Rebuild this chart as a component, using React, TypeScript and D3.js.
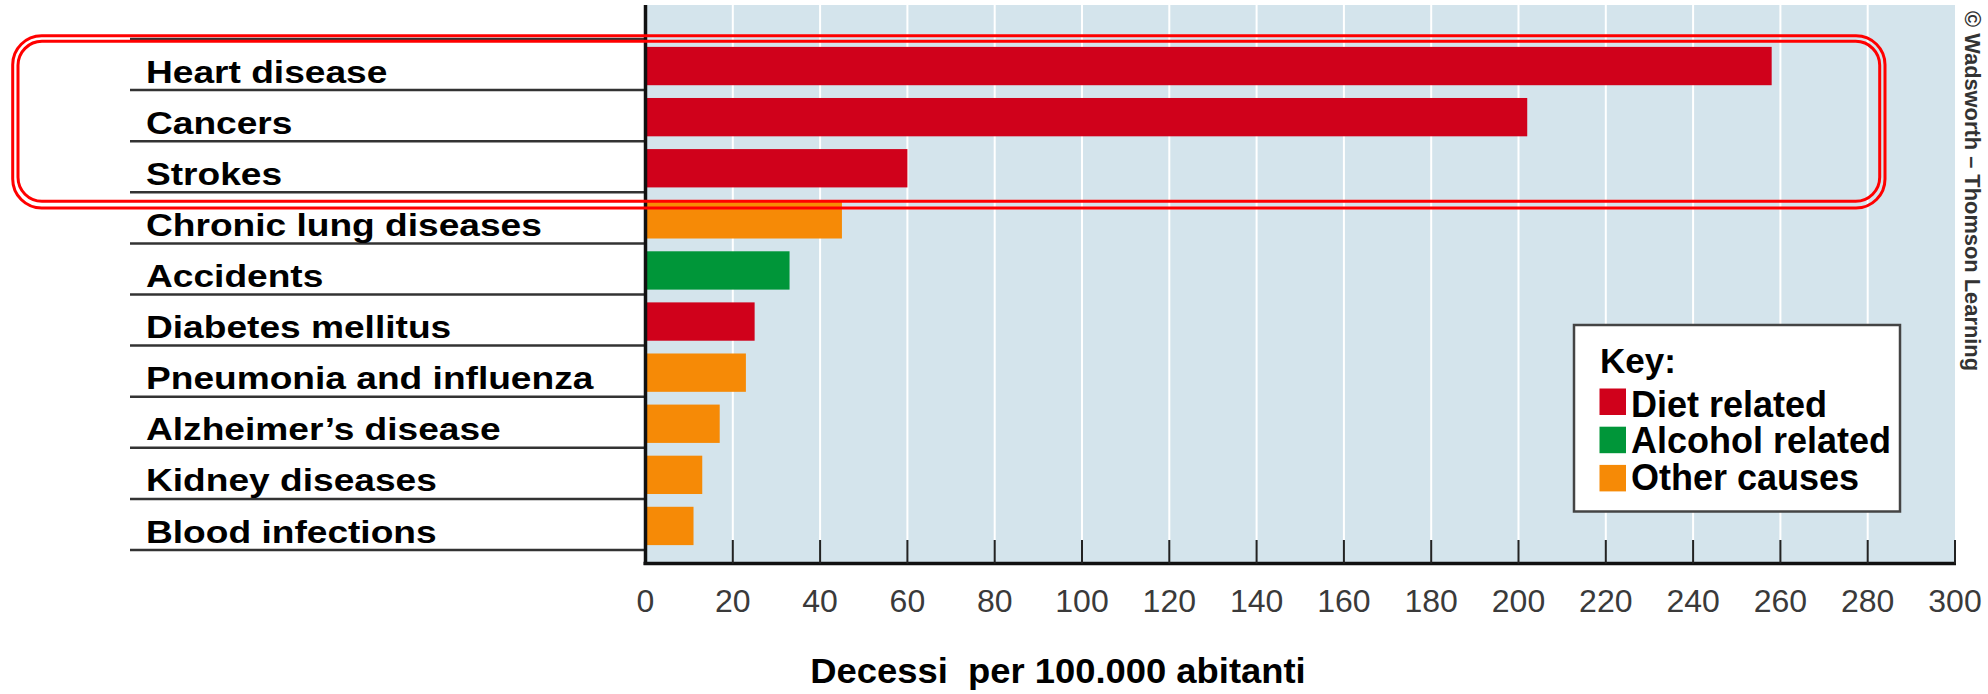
import React from "react";
import * as d3 from "d3";

// Leading causes of death, deaths per 100,000 inhabitants
const causes = [
  "Heart disease",
  "Cancers",
  "Strokes",
  "Chronic lung diseases",
  "Accidents",
  "Diabetes mellitus",
  "Pneumonia and influenza",
  "Alzheimer’s disease",
  "Kidney diseases",
  "Blood infections",
];
const deathRates = [258, 202, 60, 45, 33, 25, 23, 17, 13, 11];
const causeGroups = ["diet", "diet", "diet", "other", "alcohol", "diet", "other", "other", "other", "other"];

const groupKeys = ["diet", "alcohol", "other"];
const groupLabels = ["Diet related", "Alcohol related", "Other causes"];
const groupColors = ["#d0011b", "#009639", "#f68a06"];

const tickValues = [0, 20, 40, 60, 80, 100, 120, 140, 160, 180, 200, 220, 240, 260, 280, 300];
const highlightedCauses = ["Heart disease", "Cancers", "Strokes"];

const axisTitle = "Decessi  per 100.000 abitanti";
const legendTitle = "Key:";
const credit = "© Wadsworth – Thomson Learning";

const W = 1988;
const H = 694;
const FONT = '"Liberation Sans", Arial, Helvetica, sans-serif';

export default function App() {
  const plotLeft = 645.5;
  const plotRight = 1955;
  const plotTop = 5;
  const axisY = 563.5;
  const rowsTop = 39;
  const rowsBottom = 550;
  const labelX = 146;

  const x = d3.scaleLinear().domain([0, 300]).range([plotLeft, plotRight]);
  const rows = d3.scaleBand<string>().domain(causes).range([rowsTop, rowsBottom]);
  const bars = d3
    .scaleBand<string>()
    .domain(causes)
    .range([rowsTop, rowsBottom])
    .paddingInner(0.25)
    .paddingOuter(0.125);
  const color = d3.scaleOrdinal<string, string>().domain(groupKeys).range(groupColors);

  // highlight frame around the top causes
  const hiRows = highlightedCauses.map((c) => rows(c) as number);
  const hiTop = d3.min(hiRows) as number;
  const hiBottom = (d3.max(hiRows) as number) + rows.step();

  const separators = [...causes.map((c) => rows(c) as number), rowsBottom];

  return (
    <svg width={W} height={H} style={{ display: "block", position: "absolute", left: 0, top: 0 }}>
      <rect x={0} y={0} width={W} height={H} fill="#ffffff" />

      {/* plot background */}
      <rect x={plotLeft} y={plotTop} width={plotRight - plotLeft} height={axisY - plotTop} fill="#d4e4ec" />

      {/* vertical gridlines */}
      {tickValues
        .filter((t) => t > 0 && t < 300)
        .map((t) => (
          <line key={"g" + t} x1={x(t)} x2={x(t)} y1={plotTop} y2={540} stroke="#ffffff" strokeWidth={2} />
        ))}

      {/* row separators */}
      {separators.map((y, i) => (
        <line key={"s" + i} x1={130} x2={plotLeft} y1={y} y2={y} stroke="#333333" strokeWidth={2.5} />
      ))}

      {/* bars */}
      {causes.map((c, i) => (
        <rect
          key={c}
          x={x(0) + 1.5}
          y={(bars(c) as number) + 1.5}
          width={x(deathRates[i]) - x(0) - 1.5}
          height={bars.bandwidth()}
          fill={color(causeGroups[i])}
        />
      ))}

      {/* category labels */}
      {causes.map((c) => (
        <text
          key={"l" + c}
          transform={`translate(${labelX},${(rows(c) as number) + rows.step() - 7.5}) scale(1.16,1)`}
          fontFamily={FONT}
          fontWeight="bold"
          fontSize={32}
          fill="#000000"
        >
          {c}
        </text>
      ))}

      {/* axes */}
      <line x1={plotLeft} x2={plotLeft} y1={plotTop} y2={axisY + 1.5} stroke="#111111" strokeWidth={3.5} />
      <line x1={plotLeft - 2} x2={plotRight + 1} y1={axisY} y2={axisY} stroke="#111111" strokeWidth={3.5} />
      {tickValues
        .filter((t) => t > 0)
        .map((t) => (
          <line key={"t" + t} x1={x(t)} x2={x(t)} y1={540} y2={axisY} stroke="#222222" strokeWidth={2} />
        ))}
      {tickValues.map((t) => (
        <text
          key={"tl" + t}
          x={x(t)}
          y={611.5}
          textAnchor="middle"
          fontFamily={FONT}
          fontSize={32}
          fill="#3a3a3a"
        >
          {t}
        </text>
      ))}

      {/* axis title */}
      <text
        transform={`translate(1058,683) scale(1.04,1)`}
        textAnchor="middle"
        fontFamily={FONT}
        fontWeight="bold"
        fontSize={35}
        fill="#000000"
        style={{ whiteSpace: "pre" }}
      >
        {axisTitle}
      </text>

      {/* legend */}
      <rect x={1574} y={325} width={326} height={186.5} fill="#ffffff" stroke="#444444" strokeWidth={2.5} />
      <text x={1600} y={373} fontFamily={FONT} fontWeight="bold" fontSize={35} fill="#000000">
        {legendTitle}
      </text>
      {groupLabels.map((lab, i) => (
        <g key={lab}>
          <rect x={1599.5} y={388.5 + i * 38.2} width={26.5} height={26.5} fill={groupColors[i]} />
          <text
            x={1631}
            y={416.5 + i * 36.5}
            fontFamily={FONT}
            fontWeight="bold"
            fontSize={36}
            fill="#000000"
          >
            {lab}
          </text>
        </g>
      ))}

      {/* highlight frame: double rounded outline */}
      <rect
        x={12.7}
        y={hiTop - 3.2}
        width={1885 - 12.7}
        height={hiBottom - hiTop + 18.6 - 15.7 + 3.2 + 12.8}
        rx={29}
        ry={29}
        fill="none"
        stroke="#ff0000"
        strokeWidth={3}
      />
      <rect
        x={18}
        y={hiTop + 2.3}
        width={1879.7 - 18}
        height={201.3 - (hiTop + 2.3)}
        rx={24}
        ry={24}
        fill="none"
        stroke="#ff0000"
        strokeWidth={3}
      />

      {/* credit line */}
      <text
        transform="translate(1965,11) rotate(90)"
        fontFamily={FONT}
        fontWeight="bold"
        fontSize={22}
        fill="#333333"
        textLength={360}
        lengthAdjust="spacingAndGlyphs"
      >
        {credit}
      </text>
    </svg>
  );
}
